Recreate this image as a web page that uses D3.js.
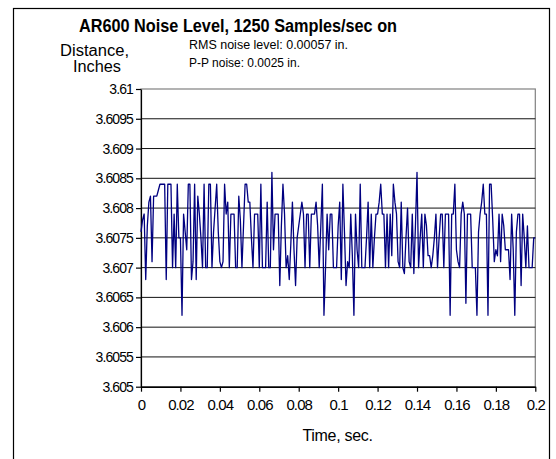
<!DOCTYPE html>
<html>
<head>
<meta charset="utf-8">
<script src="https://cdn.jsdelivr.net/npm/d3@7"></script>
<style>
  body { margin: 0; background: #fff; }
  svg { display: block; font-family: "Liberation Sans", Arial, sans-serif; }
  .tick text { fill: #000; }
</style>
</head>
<body>
<svg width="556" height="459"></svg>
<script>
const samplesPerSec = 1250;
// distance readings, one per sample (0 .. 0.2 s)
const distance = [
  3.6076, 3.6078, 3.6079, 3.6068, 3.6077, 3.6081, 3.6082, 3.6071, 3.6082, 3.6082,
  3.6082, 3.6083, 3.6084, 3.6084, 3.6084, 3.6084, 3.6068, 3.6084, 3.6084, 3.6084,
  3.607, 3.6079, 3.607, 3.6084, 3.6075, 3.6075, 3.6062, 3.6079, 3.6076, 3.6073,
  3.6084, 3.6084, 3.6068, 3.6071, 3.6084, 3.6068, 3.6082, 3.6079, 3.6075, 3.607,
  3.6084, 3.607, 3.607, 3.6084, 3.6084, 3.607, 3.6076, 3.608, 3.6084, 3.6076,
  3.6071, 3.607, 3.6071, 3.6084, 3.6079, 3.6081, 3.607, 3.6079, 3.6079, 3.6079,
  3.607, 3.607, 3.6082, 3.6078, 3.607, 3.6077, 3.6084, 3.6084, 3.6081, 3.6081,
  3.6075, 3.607, 3.6079, 3.6079, 3.6079, 3.607, 3.6084, 3.607, 3.607, 3.607,
  3.6081, 3.607, 3.607, 3.6086, 3.6073, 3.6079, 3.6079, 3.6079, 3.6067, 3.6077,
  3.6084, 3.6079, 3.607, 3.6072, 3.6068, 3.6074, 3.6081, 3.6073, 3.6067, 3.6075,
  3.6077, 3.6079, 3.6081, 3.6079, 3.607, 3.6079, 3.6079, 3.607, 3.6079, 3.6079,
  3.6079, 3.6081, 3.6077, 3.607, 3.6077, 3.6084, 3.6062, 3.607, 3.6079, 3.6073,
  3.6079, 3.6079, 3.607, 3.607, 3.607, 3.6077, 3.6081, 3.6068, 3.6084, 3.6076,
  3.6067, 3.6071, 3.607, 3.6079, 3.6072, 3.6062, 3.6079, 3.6073, 3.607, 3.6084,
  3.607, 3.607, 3.607, 3.6075, 3.6081, 3.607, 3.6079, 3.607, 3.6075, 3.6079,
  3.6079, 3.6081, 3.6084, 3.6079, 3.6079, 3.607, 3.6079, 3.607, 3.6079, 3.6072,
  3.6084, 3.6081, 3.6079, 3.6071, 3.607, 3.6081, 3.607, 3.6069, 3.6075, 3.608,
  3.6071, 3.607, 3.6079, 3.6069, 3.6077, 3.6086, 3.607, 3.6075, 3.6079, 3.607,
  3.6079, 3.6077, 3.6072, 3.6072, 3.607, 3.6072, 3.6075, 3.6079, 3.607, 3.6075,
  3.6079, 3.6079, 3.607, 3.6079, 3.6079, 3.6079, 3.6062, 3.6079, 3.6079, 3.6084,
  3.6073, 3.6071, 3.607, 3.6079, 3.6081, 3.6079, 3.6064, 3.6079, 3.6079, 3.6079,
  3.607, 3.607, 3.607, 3.6062, 3.6076, 3.6079, 3.6081, 3.6084, 3.6079, 3.6079,
  3.6062, 3.6084, 3.6084, 3.6078, 3.6071, 3.6073, 3.6072, 3.6079, 3.6071, 3.6079,
  3.6077, 3.6073, 3.6073, 3.6073, 3.6068, 3.6079, 3.6073, 3.6062, 3.6076, 3.6079,
  3.6079, 3.6067, 3.6079, 3.6075, 3.607, 3.6077, 3.607, 3.607, 3.607, 3.6075,
  3.6075
];
const yTicks = [3.605, 3.6055, 3.606, 3.6065, 3.607, 3.6075, 3.608, 3.6085, 3.609, 3.6095, 3.61];
const xTicks = [0, 0.02, 0.04, 0.06, 0.08, 0.1, 0.12, 0.14, 0.16, 0.18, 0.2];
const title = "AR600 Noise Level, 1250 Samples/sec on";
const yTitle = ["Distance,", "Inches"];
const xTitle = "Time, sec.";
const notes = ["RMS noise level: 0.00057 in.", "P-P noise: 0.0025 in."];

const plot = { left: 141, right: 535.3, top: 89, bottom: 386.7 };

const svg = d3.select("svg");

// outer chart border
svg.append("rect")
  .attr("x", 13.5).attr("y", 8.5)
  .attr("width", 536).attr("height", 470)
  .attr("fill", "#fff")
  .attr("stroke", "#000")
  .attr("stroke-width", 1.2);

const x = d3.scaleLinear().domain([0, 0.2]).range([plot.left, plot.right]);
const y = d3.scaleLinear().domain([3.605, 3.61]).range([plot.bottom, plot.top]);

// plot frame
svg.append("rect")
  .attr("x", plot.left).attr("y", plot.top)
  .attr("width", plot.right - plot.left).attr("height", plot.bottom - plot.top)
  .attr("fill", "none")
  .attr("stroke", "#808080")
  .attr("stroke-width", 1.2);

// gridlines
svg.append("g")
  .selectAll("line")
  .data(yTicks.slice(1, -1))
  .join("line")
  .attr("x1", plot.left).attr("x2", plot.right)
  .attr("y1", d => y(d)).attr("y2", d => y(d))
  .attr("stroke", "#111")
  .attr("stroke-width", 1);

// axes
const yAxis = svg.append("g")
  .attr("transform", `translate(${plot.left},0)`)
  .call(d3.axisLeft(y).tickValues(yTicks).tickFormat(d => String(d)).tickSizeInner(5).tickSizeOuter(0).tickPadding(3));
yAxis.selectAll("text")
  .style("font-size", "14px")
  .style("letter-spacing", "-0.9px");

const xAxis = svg.append("g")
  .attr("transform", `translate(0,${plot.bottom})`)
  .call(d3.axisBottom(x).tickValues(xTicks).tickFormat(d => String(d)).tickSizeInner(5).tickSizeOuter(0).tickPadding(8));
xAxis.selectAll("text")
  .style("font-size", "15px")
  .style("letter-spacing", "-0.9px");

svg.selectAll(".domain, .tick line").attr("stroke", "#000").attr("stroke-width", 1.2);
xAxis.select(".domain").attr("stroke-width", 1.5);

// series
const line = d3.line()
  .x((d, i) => x(i / samplesPerSec))
  .y(d => y(d));
svg.append("path")
  .datum(distance)
  .attr("d", line)
  .attr("fill", "none")
  .attr("stroke", "#000080")
  .attr("stroke-width", 1.3)
  .attr("stroke-linejoin", "round");

// title
svg.append("text")
  .attr("x", 79).attr("y", 31.5)
  .attr("textLength", 318)
  .attr("lengthAdjust", "spacingAndGlyphs")
  .style("font-size", "18px")
  .style("font-weight", "bold")
  .text(title);

// y axis title
svg.append("g")
  .selectAll("text")
  .data(yTitle)
  .join("text")
  .attr("x", (d, i) => i === 0 ? 60 : 73)
  .attr("y", (d, i) => i === 0 ? 56 : 71.5)
  .attr("textLength", (d, i) => i === 0 ? 69 : 48)
  .attr("lengthAdjust", "spacingAndGlyphs")
  .style("font-size", "16px")
  .text(d => d);

// noise notes
svg.append("g")
  .selectAll("text")
  .data(notes)
  .join("text")
  .attr("x", 189)
  .attr("y", (d, i) => 49 + i * 18)
  .attr("textLength", (d, i) => i === 0 ? 159 : 111)
  .attr("lengthAdjust", "spacingAndGlyphs")
  .style("font-size", "12.5px")
  .text(d => d);

// x axis title
svg.append("text")
  .attr("x", 337.5).attr("y", 440.5)
  .attr("text-anchor", "middle")
  .style("font-size", "16px")
  .style("letter-spacing", "-0.3px")
  .text(xTitle);
</script>
</body>
</html>
